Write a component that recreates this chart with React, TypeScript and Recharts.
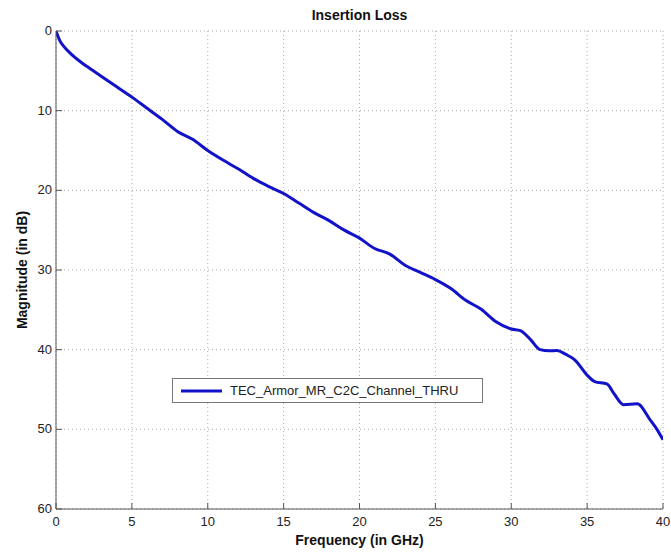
import React from 'react'
import { LineChart, Line, XAxis, YAxis, CartesianGrid, Legend } from 'recharts'

// frequency (GHz) and insertion loss (dB)
const FREQ = [
  0, 0.25, 0.5, 1, 1.5, 2, 3, 4, 5, 6, 7, 8, 9, 10, 11, 12, 13, 14, 15, 16, 17, 18, 19, 20,
  21, 22, 23, 24, 25, 26, 27, 28, 29, 30, 30.6, 31.3, 31.9, 32.5, 33, 33.6, 34.2, 35, 35.5,
  36.3, 36.8, 37.4, 38.3, 39.15, 39.6, 40,
]
const LOSS = [
  0, 1.2, 1.9, 2.9, 3.7, 4.4, 5.7, 7.0, 8.3, 9.7, 11.1, 12.6, 13.6, 15.0, 16.2, 17.3, 18.5,
  19.5, 20.4, 21.6, 22.8, 23.8, 25.0, 26.0, 27.3, 28.0, 29.4, 30.3, 31.2, 32.3, 33.8, 34.9,
  36.5, 37.4, 37.6, 38.8, 40.0, 40.15, 40.1, 40.6, 41.3, 43.2, 44.0, 44.3, 45.6, 46.9, 46.8,
  48.8, 50.0, 51.3,
]
const X_TICKS = [0, 5, 10, 15, 20, 25, 30, 35, 40]
const Y_TICKS = [0, 10, 20, 30, 40, 50, 60]
const SERIES_NAME = 'TEC_Armor_MR_C2C_Channel_THRU'

const data = FREQ.map((f, i) => ({ f, loss: LOSS[i] }))

const FONT = '"Liberation Sans", Arial, Helvetica, sans-serif'
const AXIS = '#555'
const LINE = '#1212c8'

function BottomTick({ x, y, payload }: any) {
  return (
    <g>
      <line x1={x} y1={y} x2={x} y2={y - 6} stroke={AXIS} />
      <text x={x} y={y + 17} textAnchor="middle" fontSize={13} fill="#222" fontFamily={FONT}>
        {payload.value}
      </text>
    </g>
  )
}

function LeftTick({ x, y, payload }: any) {
  return (
    <g>
      <line x1={x} y1={y} x2={x + 6} y2={y} stroke={AXIS} />
      <text x={x - 4} y={y + 4} textAnchor="end" fontSize={13} fill="#222" fontFamily={FONT}>
        {payload.value}
      </text>
    </g>
  )
}

function TopTick({ x, y }: any) {
  return <line x1={x} y1={y} x2={x} y2={y + 6} stroke={AXIS} />
}

function RightTick({ x, y }: any) {
  return <line x1={x} y1={y} x2={x - 6} y2={y} stroke={AXIS} />
}

function LegendBox() {
  return (
    <div style={{
      border: '1px solid #777', background: '#fff', width: 309, height: 23,
      display: 'flex', alignItems: 'center', fontFamily: FONT, fontSize: 13, color: '#222',
    }}>
      <svg width={52} height={10}>
        <line x1={8} y1={5} x2={49} y2={5} stroke={LINE} strokeWidth={3} />
      </svg>
      <span style={{ marginLeft: 5 }}>{SERIES_NAME}</span>
    </div>
  )
}

const labelStyle: React.CSSProperties = {
  position: 'absolute', fontFamily: FONT, fontWeight: 'bold', fontSize: 14, color: '#111',
  whiteSpace: 'nowrap',
}

export default function App() {
  return (
    <div style={{ position: 'absolute', left: 0, top: 0, width: 671, height: 554, background: '#fff' }}>
      <LineChart width={671} height={554} data={data}
        margin={{ top: 31, right: 8, bottom: 15, left: 0 }}>
        <CartesianGrid stroke="#aaa" strokeDasharray="1 3" />
        <XAxis dataKey="f" type="number" domain={[0, 40]} ticks={X_TICKS} height={30}
          stroke={AXIS} tickLine={false} tickSize={0} tickMargin={0} tick={<BottomTick />}
          interval={0} allowDataOverflow />
        <XAxis xAxisId="top" dataKey="f" type="number" domain={[0, 40]} ticks={X_TICKS}
          orientation="top" height={0} stroke={AXIS} tickLine={false} tickSize={0}
          tickMargin={0} tick={<TopTick />} interval={0} />
        <YAxis type="number" domain={[0, 60]} ticks={Y_TICKS} reversed width={56}
          stroke={AXIS} tickLine={false} tickSize={0} tickMargin={0} tick={<LeftTick />}
          interval={0} />
        <YAxis yAxisId="right" orientation="right" type="number" domain={[0, 60]}
          ticks={Y_TICKS} reversed width={0} stroke={AXIS} tickLine={false} tickSize={0}
          tickMargin={0} tick={<RightTick />} interval={0} />
        <Legend verticalAlign="middle" align="center" layout="horizontal"
          wrapperStyle={{ left: 172, top: 378, width: 311 }} content={<LegendBox />} />
        <Line type="monotone" dataKey="loss" name={SERIES_NAME} stroke={LINE} strokeWidth={3}
          dot={false} isAnimationActive={false} />
      </LineChart>
      <div style={{ ...labelStyle, left: 0, width: 719, top: 7, textAlign: 'center' }}>
        Insertion Loss
      </div>
      <div style={{ ...labelStyle, left: 0, width: 719, top: 532, textAlign: 'center' }}>
        Frequency (in GHz)
      </div>
      <div style={{
        ...labelStyle, left: 22, top: 270, transform: 'translate(-50%, -50%) rotate(-90deg)',
      }}>
        Magnitude (in dB)
      </div>
    </div>
  )
}
